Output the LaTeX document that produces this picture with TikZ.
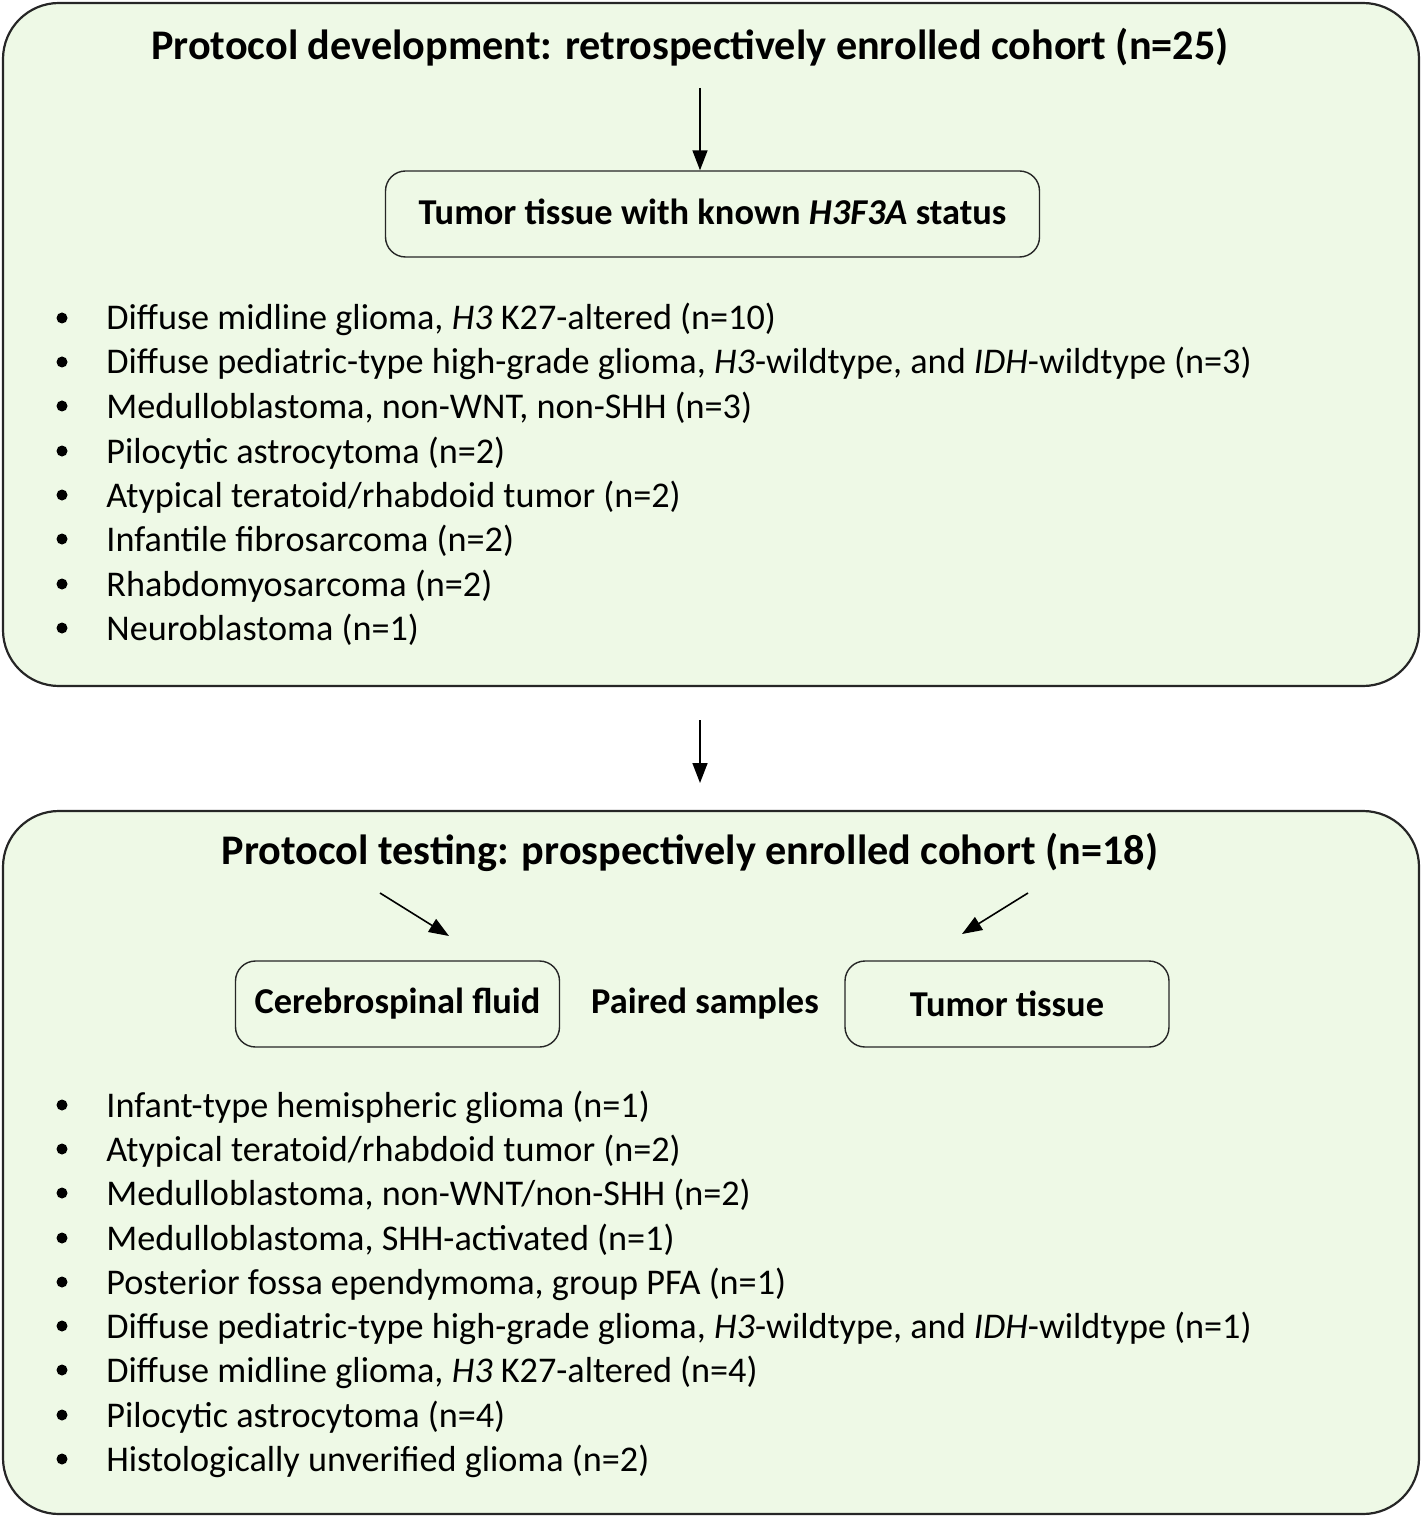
\documentclass[tikz,border=0pt]{standalone}
\usepackage{fontspec}
\setmainfont{Carlito}
\usetikzlibrary{arrows.meta}
\definecolor{boxfill}{HTML}{EEF9E6}
\begin{document}
\begin{tikzpicture}[x=0.5pt,y=-0.5pt,
  panel/.style={draw=black!85,line width=1.1pt,fill=boxfill,rounded corners=28pt},
  inbox/.style={draw=black!85,line width=0.7pt,rounded corners=10pt,minimum height=43pt,font=\fontsize{18.2}{21}\selectfont\bfseries},
  ttl/.style={font=\fontsize{21.1}{25}\selectfont\bfseries},
  item/.style={anchor=base west,font=\fontsize{18.1}{21}\selectfont,inner sep=0pt},
  bul/.style={circle,fill=black,inner sep=0pt,minimum size=5.5pt},
  arr/.style={-{Triangle[length=10pt,width=7.5pt]},line width=0.8pt}]
\useasboundingbox (0,0) rectangle (1422,1518);
\draw[panel] (3,3) rectangle (1419,686);
\draw[panel] (3,811) rectangle (1419,1514);
\node[ttl] (t1) at (690,47) {Protocol development: retrospectively enrolled cohort (n=25)};
\node[inbox,minimum width=327pt,text depth=2pt] (b1) at (712.5,214) {Tumor tissue with known \textit{H3F3A} status};
\coordinate (a1s) at (700,88);
\draw[arr] (a1s) -- (b1.north -| a1s);
\coordinate (m1) at (700,720);
\coordinate (m2) at (700,783);
\draw[arr] (m1) -- (m2);
\node[ttl] (t2) at (690,852) {Protocol testing: prospectively enrolled cohort (n=18)};
\node[inbox,minimum width=162pt] (csf) at (397.5,1004) {Cerebrospinal fluid};
\node[inbox,minimum width=162pt] (tt) at (1007,1004) {Tumor tissue};
\node[font=\fontsize{18.2}{21}\selectfont\bfseries] (ps) at (705,1004) {Paired samples};
\coordinate (l1) at (380,893); \coordinate (l2) at (449,936);
\coordinate (r1) at (1028,893); \coordinate (r2) at (962,934);
\draw[arr] (l1) -- (l2);
\draw[arr] (r1) -- (r2);
\foreach \y/\t [count=\i] in {
 330/{Diffuse midline glioma, \textit{H3} K27-altered (n=10)},
 374/{Diffuse pediatric-type high-grade glioma, \textit{H3}-wildtype, and \textit{IDH}-wildtype (n=3)},
 418/{Medulloblastoma, non-WNT, non-SHH (n=3)},
 463/{Pilocytic astrocytoma (n=2)},
 507/{Atypical teratoid/rhabdoid tumor (n=2)},
 551/{Infantile fibrosarcoma (n=2)},
 596/{Rhabdomyosarcoma (n=2)},
 640/{Neuroblastoma (n=1)}}{
 \node[bul] (ba\i) at (62,\y-12) {};
 \node[item] (ia\i) at (106,\y) {\t};
}
\foreach \y/\t [count=\i] in {
 1117/{Infant-type hemispheric glioma (n=1)},
 1161/{Atypical teratoid/rhabdoid tumor (n=2)},
 1205/{Medulloblastoma, non-WNT/non-SHH (n=2)},
 1250/{Medulloblastoma, SHH-activated (n=1)},
 1294/{Posterior fossa ependymoma, group PFA (n=1)},
 1338/{Diffuse pediatric-type high-grade glioma, \textit{H3}-wildtype, and \textit{IDH}-wildtype (n=1)},
 1382/{Diffuse midline glioma, \textit{H3} K27-altered (n=4)},
 1427/{Pilocytic astrocytoma (n=4)},
 1471/{Histologically unverified glioma (n=2)}}{
 \node[bul] (bb\i) at (62,\y-12) {};
 \node[item] (ib\i) at (106,\y) {\t};
}
\end{tikzpicture}
\end{document}
